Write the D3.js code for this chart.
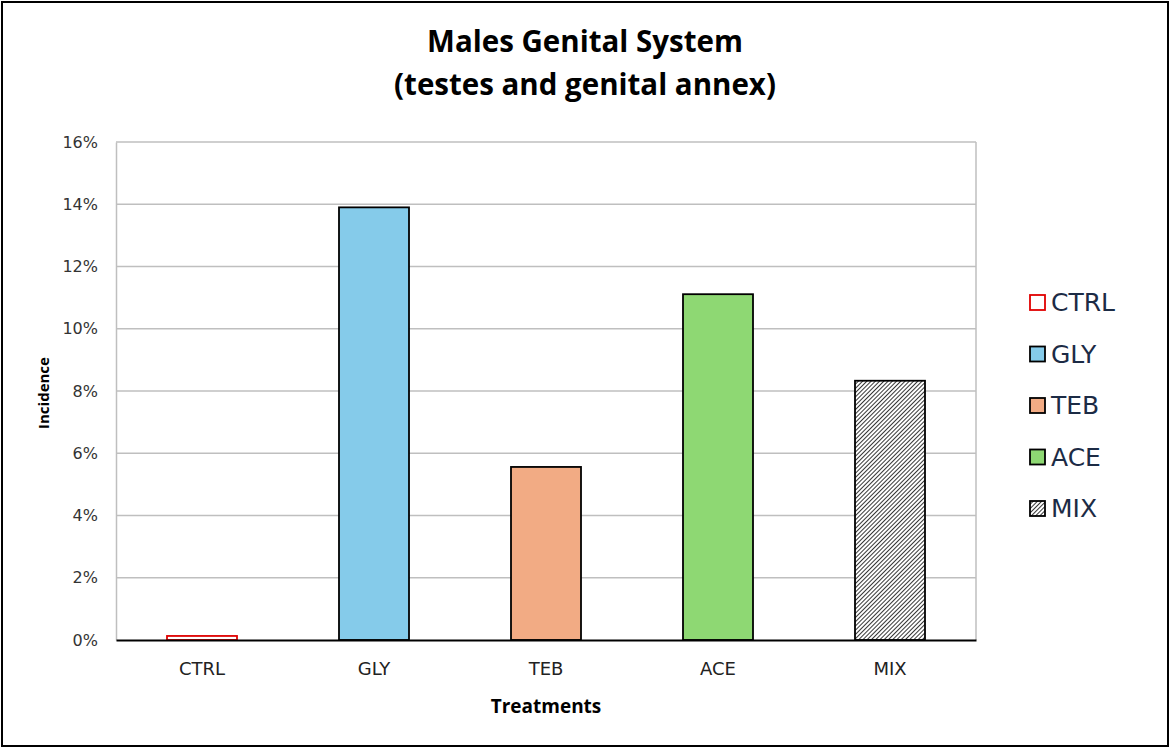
<!DOCTYPE html>
<html lang="en">
  <head>
    <meta charset="UTF-8"/>
    <title>Males Genital System</title>
    <script src="https://d3js.org/d3.v7.min.js"></script>
    <style>
        body { margin: 0; background: #fff; }
    </style>
  </head>
  <body>
    <script>
        // data
        const treatments = ["CTRL", "GLY", "TEB", "ACE", "MIX"]
        const incidence = [0.13, 13.9, 5.56, 11.11, 8.33]   // percent
        const yTicks = [0, 2, 4, 6, 8, 10, 12, 14, 16]
        const fills = ["#ffffff", "#85CBEA", "#F2AB84", "#8ED873", "url(#hatch)"]
        const strokes = ["#e00000", "#000", "#000", "#000", "#000"]

        const W = 1171, H = 750
        const plot = {left: 116, right: 976, top: 142, bottom: 640}

        const svg = d3.select("body").append("svg")
            .attr("width", W)
            .attr("height", H)

        // hatch pattern for MIX
        const pat = svg.append("defs").append("pattern")
            .attr("id", "hatch")
            .attr("patternUnits", "userSpaceOnUse")
            .attr("width", 3)
            .attr("height", 3)
            .attr("patternTransform", "rotate(45)")
        pat.append("rect").attr("width", 3).attr("height", 3).attr("fill", "#fff")
        pat.append("line")
            .attr("x1", 0).attr("y1", 0).attr("x2", 0).attr("y2", 3)
            .attr("stroke", "#111").attr("stroke-width", 1.7)

        // outer frame
        svg.append("rect")
            .attr("x", 2).attr("y", 2)
            .attr("width", W - 5).attr("height", H - 6)
            .attr("fill", "none")
            .attr("stroke", "#000")
            .attr("stroke-width", 2)

        const x = d3.scaleBand()
            .domain(treatments)
            .range([plot.left, plot.right])
            .paddingInner(0.593)
            .paddingOuter(0.2965)

        const y = d3.scaleLinear()
            .domain([0, 16])
            .range([plot.bottom, plot.top])

        // gridlines
        svg.append("g")
            .selectAll("line")
            .data(yTicks.slice(1))
            .join("line")
            .attr("x1", plot.left).attr("x2", plot.right)
            .attr("y1", d => y(d)).attr("y2", d => y(d))
            .attr("stroke", "#bfbfbf")
            .attr("stroke-width", 1.5)

        // right border of plot area
        svg.append("line")
            .attr("x1", plot.right).attr("x2", plot.right)
            .attr("y1", plot.top).attr("y2", plot.bottom)
            .attr("stroke", "#bfbfbf").attr("stroke-width", 1.5)

        // y axis
        const yAxis = svg.append("g")
            .attr("transform", `translate(${plot.left}, 0)`)
            .call(d3.axisLeft(y).tickValues(yTicks).tickFormat(d => d + "%").tickSize(0).tickPadding(18))
        yAxis.select(".domain").attr("stroke", "#bfbfbf").attr("stroke-width", 1.5)
        yAxis.selectAll(".tick text")
            .style("font-family", "'DejaVu Sans', sans-serif")
            .style("font-size", "16px")
            .style("fill", "#333")

        // bars
        svg.append("g")
            .selectAll("rect")
            .data(treatments)
            .join("rect")
            .attr("x", d => x(d))
            .attr("width", x.bandwidth())
            .attr("y", (d, i) => y(incidence[i]))
            .attr("height", (d, i) => y(0) - y(incidence[i]))
            .attr("fill", (d, i) => fills[i])
            .attr("stroke", (d, i) => strokes[i])
            .attr("stroke-width", 1.8)

        // x axis
        const xAxis = svg.append("g")
            .attr("transform", `translate(0, ${plot.bottom})`)
            .call(d3.axisBottom(x).tickSize(0).tickPadding(22))
        xAxis.select(".domain").attr("stroke", "#000").attr("stroke-width", 2)
        xAxis.selectAll(".tick text")
            .style("font-family", "'DejaVu Sans', sans-serif")
            .style("font-size", "18px")
            .style("fill", "#222")

        // title
        const title = svg.append("text")
            .attr("text-anchor", "middle")
            .style("font-family", "'Open Sans', sans-serif")
            .style("font-weight", "bold")
            .style("font-size", "29.5px")
            .attr("fill", "#000")
        title.append("tspan").attr("x", 585).attr("y", 52).text("Males Genital System")
        title.append("tspan").attr("x", 585).attr("y", 95).text("(testes and genital annex)")

        // axis titles
        svg.append("text")
            .attr("x", 546).attr("y", 713)
            .attr("text-anchor", "middle")
            .style("font-family", "'Open Sans', sans-serif")
            .style("font-weight", "bold")
            .style("font-size", "19px")
            .text("Treatments")

        svg.append("text")
            .attr("transform", "translate(49, 393) rotate(-90)")
            .attr("text-anchor", "middle")
            .style("font-family", "'Open Sans', sans-serif")
            .style("font-weight", "bold")
            .style("font-size", "15px")
            .text("Incidence")

        // legend
        const legend = svg.append("g")
            .selectAll("g")
            .data(treatments)
            .join("g")
            .attr("transform", (d, i) => `translate(1030, ${302 + i * 51.5})`)
        legend.append("rect")
            .attr("x", 0).attr("y", -7)
            .attr("width", 15).attr("height", 15)
            .attr("fill", (d, i) => fills[i])
            .attr("stroke", (d, i) => strokes[i])
            .attr("stroke-width", 1.8)
        legend.append("text")
            .attr("x", 21).attr("y", 0)
            .attr("dy", "0.36em")
            .style("font-family", "'DejaVu Sans', sans-serif")
            .style("font-size", "25px")
            .attr("fill", "#1c2b45")
            .text(d => d)
    </script>
  </body>
</html>
